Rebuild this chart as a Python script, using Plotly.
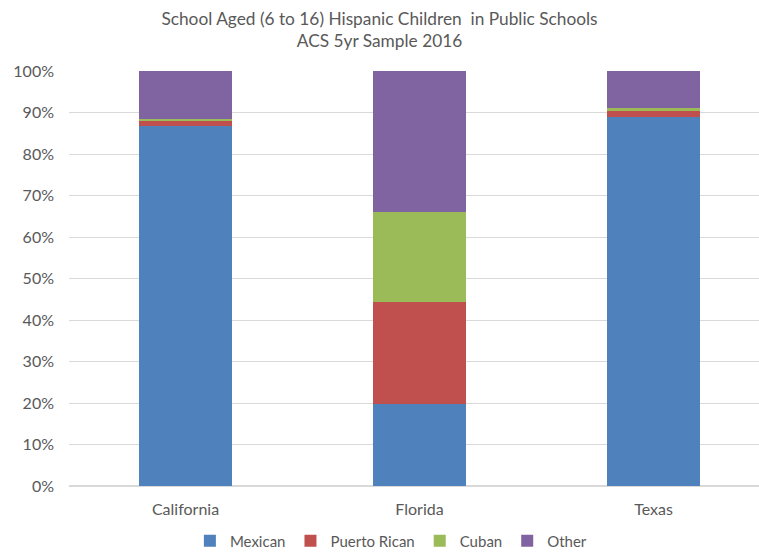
import plotly.graph_objects as go

states = ["California", "Florida", "Texas"]
mexican = [86.7, 19.7, 89.0]
puerto_rican = [1.3, 24.6, 1.4]
cuban = [0.5, 21.8, 0.6]
other = [11.5, 33.9, 9.0]
tick_vals = [0, 10, 20, 30, 40, 50, 60, 70, 80, 90, 100]
tick_text = [f"{v}%" for v in tick_vals]

series = [
    ("Mexican", mexican, "#4F81BD"),
    ("Puerto Rican", puerto_rican, "#C0504D"),
    ("Cuban", cuban, "#9BBB59"),
    ("Other", other, "#8064A2"),
]

FONT = "Lato, 'Open Sans', sans-serif"
fig = go.Figure()
for name, vals, color in series:
    fig.add_trace(go.Bar(x=states, y=vals, name=name, marker=dict(color=color, line=dict(width=0)),
                         width=0.4))

fig.update_layout(
    barmode="stack",
    width=759, height=552,
    margin=dict(l=69, r=0, t=71, b=66, autoexpand=False),
    paper_bgcolor="white", plot_bgcolor="white",
    font=dict(family=FONT, color="#595959", size=16),
    title=dict(text="School Aged (6 to 16) Hispanic Children  in Public Schools<br>ACS 5yr Sample 2016",
               x=0.5, xanchor="center", y=0.955, yanchor="top",
               font=dict(size=17.3, color="#595959", family=FONT)),
    xaxis=dict(range=[-0.498, 2.451], showgrid=False, showline=False, ticks="",
               ticklabelstandoff=12,
               tickfont=dict(size=16, color="#595959")),
    yaxis=dict(range=[0, 100], tickvals=tick_vals, ticktext=tick_text, showgrid=True,
               gridcolor="#D9D9D9", gridwidth=1, zeroline=True, zerolinecolor="#D9D9D9",
               ticks="", ticklabelstandoff=14, tickfont=dict(size=16, color="#595959")),
    legend=dict(orientation="h", xref="container", yref="paper", x=0.515, xanchor="center",
                y=-0.1325, yanchor="middle", font=dict(size=15, color="#595959"),
                itemwidth=30, traceorder="normal"),
    showlegend=True,
)

fig.write_html("out.html")
